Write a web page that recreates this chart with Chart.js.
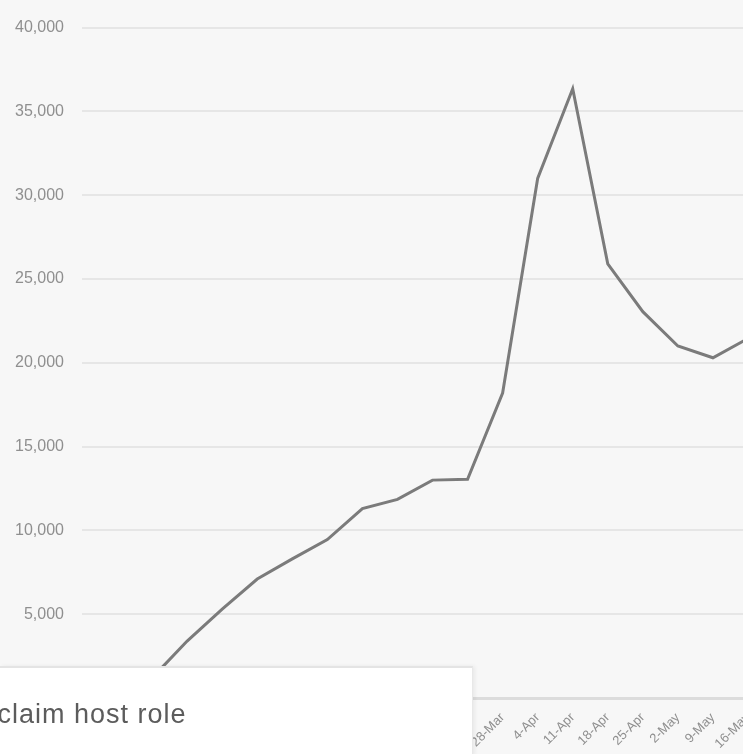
<!DOCTYPE html>
<html>
<head>
<meta charset="utf-8">
<script src="https://cdn.jsdelivr.net/npm/chart.js@4/dist/chart.umd.min.js"></script>
<style>
  html, body { margin: 0; padding: 0; background: #f7f7f7; overflow: hidden; }
  body { width: 743px; height: 754px; position: relative; }
  #wrap { position: absolute; left: 0; top: 0; width: 771px; height: 754px; }
  #popup {
    position: absolute; left: 0; top: 666px; width: 472px; height: 88px;
    background: #fff; border-top: 2px solid #e4e4e4; border-right: 1px solid #e8e8e8;
    box-shadow: 2px 0 4px rgba(0,0,0,0.06); overflow: hidden;
  }
  #popup span {
    position: absolute; left: -39px; top: 31px;
    font-family: "Liberation Sans", Arial, sans-serif; font-size: 27px; color: #5c5c5c;
    letter-spacing: 1px; white-space: nowrap;
  }
</style>
</head>
<body>
<div id="wrap"><canvas id="chart"></canvas></div>
<div id="popup"><span>Reclaim host role</span></div>
<script>
// weekly labels (the ones left of 28-Mar sit under the popup)
const weekLabels = ["4-Jan", "11-Jan", "18-Jan", "25-Jan", "1-Feb", "8-Feb", "15-Feb", "22-Feb", "29-Feb",
                    "7-Mar", "14-Mar", "21-Mar", "28-Mar", "4-Apr", "11-Apr", "18-Apr", "25-Apr",
                    "2-May", "9-May", "16-May"];
const weeklyValues = [100, 400, 1200, 3400, 5300, 7100, 8300, 9450, 11300,
                      11850, 13000, 13050, 18200, 31000, 36350, 25900, 23050,
                      21000, 20300, 21450];
const yTicks = [0, 5000, 10000, 15000, 20000, 25000, 30000, 35000, 40000];

const fontFamily = "'Liberation Sans', Arial, sans-serif";

new Chart(document.getElementById("chart"), {
  type: "line",
  data: {
    labels: weekLabels,
    datasets: [{
      data: weeklyValues,
      borderColor: "#7b7b7b",
      borderWidth: 3,
      pointRadius: 0,
      tension: 0,
      fill: false,
    }],
  },
  options: {
    responsive: true,
    maintainAspectRatio: false,
    animation: false,
    layout: { padding: { top: 21, right: 12, left: 0, bottom: 0 } },
    plugins: { legend: { display: false }, tooltip: { enabled: false } },
    scales: {
      x: {
        grid: { display: false, drawTicks: false },
        border: { color: "#dcdcdc", width: 3 },
        ticks: {
          autoSkip: false, maxRotation: 45, minRotation: 45, padding: 12,
          color: "#8f8f8f", font: { size: 13, family: fontFamily },
        },
        afterFit: (scale) => { scale.height = 56; },
      },
      y: {
        min: yTicks[0],
        max: yTicks[yTicks.length - 1],
        afterBuildTicks: (scale) => { scale.ticks = yTicks.map((v) => ({ value: v })); },
        grid: { color: "#e6e6e6", lineWidth: 2, drawTicks: false },
        border: { display: false },
        ticks: {
          padding: 18, color: "#8f8f8f", font: { size: 16, family: fontFamily },
          callback: (v) => Number(v).toLocaleString("en-US"),
        },
        afterFit: (scale) => { scale.width = 82; },
      },
    },
  },
});
</script>
</body>
</html>
